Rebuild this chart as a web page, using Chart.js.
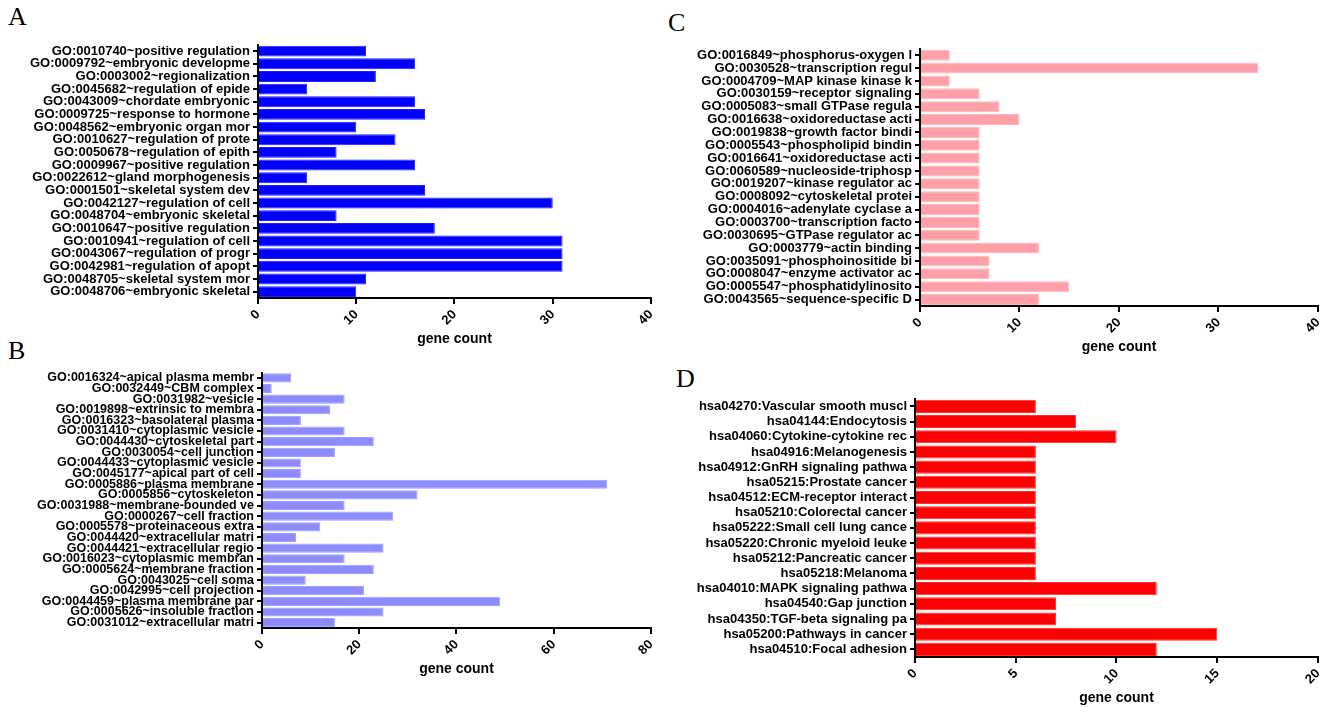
<!DOCTYPE html>
<html>
<head>
<meta charset="utf-8">
<script src="https://cdn.jsdelivr.net/npm/chart.js@4/dist/chart.umd.min.js"></script>
<style>
  body { margin: 0; background: #fff; width: 1332px; height: 707px; position: relative; overflow: hidden; }
  canvas { position: absolute; }
  .tag { position: absolute; font-family: "Liberation Serif", serif; font-size: 26px; }
</style>
</head>
<body>
<div class="tag" style="left:8px;top:2px">A</div>
<div class="tag" style="left:668px;top:8px">C</div>
<div class="tag" style="left:8px;top:336px">B</div>
<div class="tag" style="left:676px;top:364px">D</div>
<canvas id="chartA"></canvas>
<canvas id="chartB"></canvas>
<canvas id="chartC"></canvas>
<canvas id="chartD"></canvas>
<script>
const labelsA = ["GO:0010740~positive regulation", "GO:0009792~embryonic developme", "GO:0003002~regionalization",
  "GO:0045682~regulation of epide", "GO:0043009~chordate embryonic", "GO:0009725~response to hormone",
  "GO:0048562~embryonic organ mor", "GO:0010627~regulation of prote", "GO:0050678~regulation of epith",
  "GO:0009967~positive regulation", "GO:0022612~gland morphogenesis", "GO:0001501~skeletal system dev",
  "GO:0042127~regulation of cell", "GO:0048704~embryonic skeletal", "GO:0010647~positive regulation",
  "GO:0010941~regulation of cell", "GO:0043067~regulation of progr", "GO:0042981~regulation of apopt",
  "GO:0048705~skeletal system mor", "GO:0048706~embryonic skeletal"];
const valuesA = [11, 16, 12, 5, 16, 17, 10, 14, 8, 16, 5, 17, 30, 8, 18, 31, 31, 31, 11, 10];

const labelsB = ["GO:0016324~apical plasma membr", "GO:0032449~CBM complex", "GO:0031982~vesicle",
  "GO:0019898~extrinsic to membra", "GO:0016323~basolateral plasma", "GO:0031410~cytoplasmic vesicle",
  "GO:0044430~cytoskeletal part", "GO:0030054~cell junction", "GO:0044433~cytoplasmic vesicle",
  "GO:0045177~apical part of cell", "GO:0005886~plasma membrane", "GO:0005856~cytoskeleton",
  "GO:0031988~membrane-bounded ve", "GO:0000267~cell fraction", "GO:0005578~proteinaceous extra",
  "GO:0044420~extracellular matri", "GO:0044421~extracellular regio", "GO:0016023~cytoplasmic membran",
  "GO:0005624~membrane fraction", "GO:0043025~cell soma", "GO:0042995~cell projection",
  "GO:0044459~plasma membrane par", "GO:0005626~insoluble fraction", "GO:0031012~extracellular matri"];
const valuesB = [6, 2, 17, 14, 8, 17, 23, 15, 8, 8, 71, 32, 17, 27, 12, 7, 25, 17, 23, 9, 21, 49, 25, 15];

const labelsC = ["GO:0016849~phosphorus-oxygen l", "GO:0030528~transcription regul", "GO:0004709~MAP kinase kinase k",
  "GO:0030159~receptor signaling", "GO:0005083~small GTPase regula", "GO:0016638~oxidoreductase acti",
  "GO:0019838~growth factor bindi", "GO:0005543~phospholipid bindin", "GO:0016641~oxidoreductase acti",
  "GO:0060589~nucleoside-triphosp", "GO:0019207~kinase regulator ac", "GO:0008092~cytoskeletal protei",
  "GO:0004016~adenylate cyclase a", "GO:0003700~transcription facto", "GO:0030695~GTPase regulator ac",
  "GO:0003779~actin binding", "GO:0035091~phosphoinositide bi", "GO:0008047~enzyme activator ac",
  "GO:0005547~phosphatidylinosito", "GO:0043565~sequence-specific D"];
const valuesC = [3, 34, 3, 6, 8, 10, 6, 6, 6, 6, 6, 6, 6, 6, 6, 12, 7, 7, 15, 12];

const labelsD = ["hsa04270:Vascular smooth muscl", "hsa04144:Endocytosis", "hsa04060:Cytokine-cytokine rec",
  "hsa04916:Melanogenesis", "hsa04912:GnRH signaling pathwa", "hsa05215:Prostate cancer",
  "hsa04512:ECM-receptor interact", "hsa05210:Colorectal cancer", "hsa05222:Small cell lung cance",
  "hsa05220:Chronic myeloid leuke", "hsa05212:Pancreatic cancer", "hsa05218:Melanoma",
  "hsa04010:MAPK signaling pathwa", "hsa04540:Gap junction", "hsa04350:TGF-beta signaling pa",
  "hsa05200:Pathways in cancer", "hsa04510:Focal adhesion"];
const valuesD = [6, 8, 10, 6, 6, 6, 6, 6, 6, 6, 6, 6, 12, 7, 7, 15, 12];

function makeChart(id, box, labels, values, fill, edge, max, step, yWidth, fs) {
  const cv = document.getElementById(id);
  cv.style.left = box[0] + "px";
  cv.style.top = box[1] + "px";
  cv.width = box[2];
  cv.height = box[3];
  cv.style.width = box[2] + "px";
  cv.style.height = box[3] + "px";
  return new Chart(cv, {
    type: "bar",
    data: {
      labels: labels,
      datasets: [{ data: values, backgroundColor: fill, borderColor: edge, borderWidth: 1,
        categoryPercentage: 0.86, barPercentage: 1 }]
    },
    options: {
      indexAxis: "y",
      responsive: false,
      animation: false,
      devicePixelRatio: 1,
      layout: { padding: { right: 14, top: 0 } },
      plugins: { legend: { display: false }, tooltip: { enabled: false } },
      scales: {
        x: {
          min: 0, max: max,
          ticks: { stepSize: step, maxRotation: 45, minRotation: 45, color: "#000",
            font: { family: "Liberation Sans", size: 13, weight: "bold" } },
          grid: { drawOnChartArea: false, color: "#000", tickLength: 6, lineWidth: 2 },
          border: { color: "#000", width: 2 },
          title: { display: true, text: "gene count", color: "#000", padding: 0,
            font: { family: "Liberation Sans", size: 14, weight: "bold" } }
        },
        y: {
          afterFit: (s) => { s.width = yWidth; },
          ticks: { autoSkip: false, color: "#000", padding: 3,
            font: { family: "Liberation Sans", size: fs, weight: "bold" } },
          grid: { drawOnChartArea: false, color: "#000", tickLength: 5, lineWidth: 2, offset: false },
          border: { color: "#000", width: 2 }
        }
      }
    }
  });
}

makeChart("chartA", [0, 34, 665, 314], labelsA, valuesA, "#0000ff", "#2020ff", 40, 10, 258, 13);
makeChart("chartC", [665, 38, 667, 318], labelsC, valuesC, "#ffa0a8", "#ffb8c0", 40, 10, 255, 13);
makeChart("chartB", [0, 362, 665, 316], labelsB, valuesB, "#8c8cff", "#a0a0ff", 80, 20, 262, 12.5);
makeChart("chartD", [665, 388, 667, 319], labelsD, valuesD, "#ff0000", "#ff3030", 20, 5, 250, 13);
</script>
</body>
</html>
